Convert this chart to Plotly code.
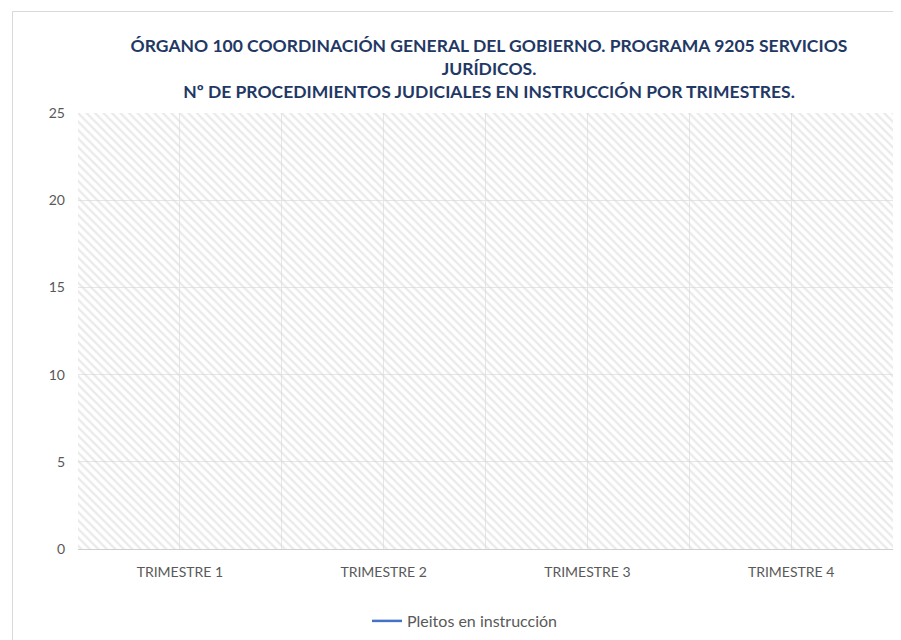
import plotly.graph_objects as go

categories = ["TRIMESTRE 1", "TRIMESTRE 2", "TRIMESTRE 3", "TRIMESTRE 4"]
pleitos = [None, None, None, None]
y_ticks = [0, 5, 10, 15, 20, 25]
series_name = "Pleitos en instrucción"
title_lines = [
    "ÓRGANO 100 COORDINACIÓN GENERAL DEL GOBIERNO. PROGRAMA 9205 SERVICIOS",
    "JURÍDICOS.",
    "Nº DE PROCEDIMIENTOS JUDICIALES EN INSTRUCCIÓN POR TRIMESTRES.",
]

Y_MAX = max(y_ticks)
idx = list(range(len(categories)))

# page body has an 8px margin; work in page pixels and convert
OFF = 8
W, H = 901 - OFF, 640 - OFF
L, R, T, B = 78 - OFF, 893 - OFF, 113 - OFF, 549 - OFF

fig = go.Figure()

# hatched plot-area background
fig.add_trace(go.Bar(
    x=idx, y=[Y_MAX] * len(idx), width=1,
    marker=dict(color="rgba(0,0,0,0)", line=dict(width=0),
                pattern=dict(shape="\\", fgcolor="#d6d6d6", bgcolor="rgba(0,0,0,0)",
                             size=6, solidity=0.4, fillmode="overlay")),
    showlegend=False, hoverinfo="skip",
))

fig.add_trace(go.Scatter(
    x=idx, y=pleitos, mode="lines", name=series_name,
    line=dict(color="#4472C4", width=2.5),
))

def px_x(p):
    return (p - OFF - L) / (R - L)

def px_y(p):
    return (B - (p - OFF)) / (B - T)

def cx(p):
    return (p - OFF) / W

def cy(p):
    return 1 - (p - OFF) / H

fig.update_layout(
    width=W, height=H,
    margin=dict(l=L, r=W - R, t=T, b=H - B),
    paper_bgcolor="white", plot_bgcolor="white",
    font=dict(family="Lato, 'Open Sans', sans-serif", color="#595959", size=14),
    title=dict(
        text="<br>".join(title_lines),
        xref="container", x=cx(489), xanchor="center",
        yref="container", y=cy(52), yanchor="middle",
        font=dict(family="Lato, sans-serif", size=17.5, color="#1F3864", weight="bold"),
    ),
    xaxis=dict(
        range=[-0.5, len(categories) - 0.5],
        tickmode="array", tickvals=idx, ticktext=categories,
        showgrid=True, gridcolor="#e6e6e6", gridwidth=1,
        minor=dict(tickvals=[i - 0.5 for i in range(len(categories) + 1)],
                   showgrid=True, gridcolor="#e6e6e6", gridwidth=1),
        showline=True, linecolor="#d0d0d0", linewidth=1,
        ticks="", zeroline=False, ticklabelstandoff=10,
        tickfont=dict(size=14), automargin=False,
        fixedrange=True,
    ),
    yaxis=dict(
        range=[0, Y_MAX], tickmode="array", tickvals=y_ticks,
        showgrid=True, gridcolor="#e6e6e6", gridwidth=1,
        zeroline=False, showline=False, ticks="", ticklabelstandoff=12,
        tickfont=dict(size=14), automargin=False,
        fixedrange=True,
    ),
    legend=dict(
        orientation="h", xref="container", x=cx(465), xanchor="center",
        yref="container", y=cy(621), yanchor="middle",
        font=dict(size=16, color="#595959"),
        bgcolor="rgba(0,0,0,0)",
    ),
    shapes=[dict(
        type="rect", xref="paper", yref="paper",
        x0=px_x(12.5), x1=px_x(910), y0=px_y(660), y1=px_y(11.5),
        line=dict(color="#d9d9d9", width=1), fillcolor="rgba(0,0,0,0)", layer="below",
    )],
    showlegend=True,
)

fig.write_html("out.html")
